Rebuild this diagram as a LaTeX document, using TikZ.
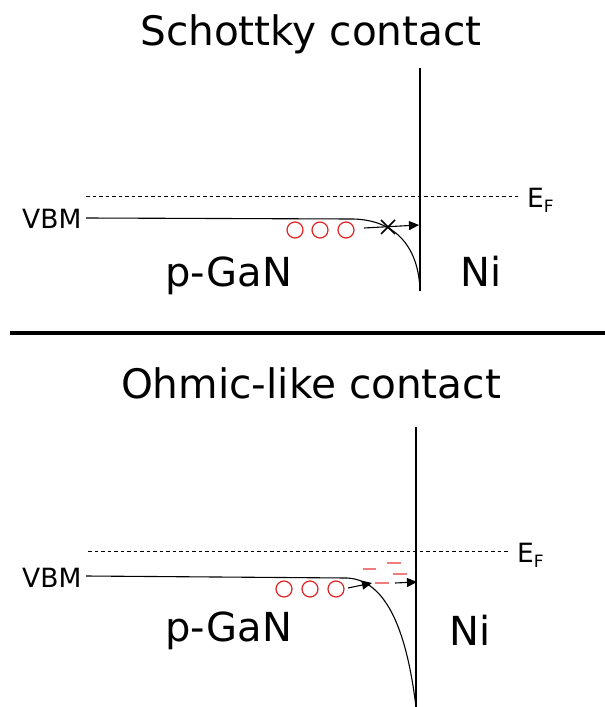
\documentclass[tikz,border=0pt]{standalone}
\usepackage{fontspec}
\setmainfont{DejaVu Sans}
\usetikzlibrary{arrows.meta,calc}
\definecolor{hole}{RGB}{225,35,35}
\definecolor{state}{RGB}{240,125,125}
\newcommand{\efermi}{E\raisebox{-5pt}{\fontsize{17}{17}\selectfont F}}
\begin{document}
\begin{tikzpicture}[x=1pt,y=-1pt,
  title/.style={font=\fontsize{40.6}{40}\selectfont, inner sep=0pt, anchor=base},
  big/.style={font=\fontsize{40}{40}\selectfont, inner sep=0pt, anchor=base west},
  lab/.style={font=\fontsize{26.5}{26}\selectfont, inner sep=0pt, anchor=base west},
  band/.style={line width=1.1pt},
  fermi/.style={line width=0.9pt, dash pattern=on 3.5pt off 3pt},
  holec/.style={draw=hole, line width=1.2pt, circle, minimum size=16pt, inner sep=0pt},
  trap/.style={draw=state, line width=1.1pt},
  arr/.style={line width=1.1pt, -{Triangle[length=10pt,width=9pt]}}]
\useasboundingbox (0,0) rectangle (605,707);
% ---------- top ----------
\node[title] (t1) at (311,45) {Schottky contact};
\coordinate (m1t) at (420,68);
\coordinate (m1b) at (420,291);
\draw[band] (m1t) -- (m1b);
\coordinate (f1a) at (86,196);
\coordinate (f1b) at (518,196);
\draw[fermi] (f1a) -- (f1b);
\node[lab] (ef1) at (527,207) {\efermi};
\node[lab] (vbm1) at (22,228) {VBM};
\coordinate (v1a) at (86,218);
\coordinate (v1b) at (353,219);
\draw[band] (v1a) -- (v1b) .. controls (398,220) and (419,250) .. (m1b);
\node[holec] (h1a) at (295,230) {};
\node[holec] (h1b) at (320,230) {};
\node[holec] (h1c) at (346,230) {};
\coordinate (a1s) at (364,228);
\coordinate (a1e) at (419,225);
\draw[arr] (a1s) -- (a1e);
\coordinate (x1) at (388,227);
\draw[line width=1.5pt] ($(x1)+(-7,-7)$) -- ($(x1)+(7,7)$) ($(x1)+(-7,7)$) -- ($(x1)+(7,-7)$);
\node[big] (pg1) at (165,286) {p-GaN};
\node[big] (ni1) at (460,286) {Ni};
% ---------- separator ----------
\coordinate (s1) at (10,333);
\coordinate (s2) at (605,333);
\draw[line width=4pt] (s1) -- (s2);
% ---------- bottom ----------
\node[title] (t2) at (311,398) {Ohmic-like contact};
\coordinate (m2t) at (416,427);
\coordinate (m2b) at (416,707);
\draw[band] (m2t) -- (m2b);
\coordinate (f2a) at (88,551);
\coordinate (f2b) at (510,551);
\draw[fermi] (f2a) -- (f2b);
\node[lab] (ef2) at (517,562) {\efermi};
\node[lab] (vbm2) at (22,587) {VBM};
\coordinate (v2a) at (86,576);
\coordinate (v2b) at (347,578);
\draw[band] (v2a) -- (v2b) .. controls (393,580) and (409,650) .. (m2b);
\node[holec] (h2a) at (284,589) {};
\node[holec] (h2b) at (310,589) {};
\node[holec] (h2c) at (336,589) {};
\coordinate (a2s) at (348,588);
\coordinate (a2e) at (372,583);
\draw[arr] (a2s) -- (a2e);
\coordinate (a3s) at (395,583);
\coordinate (a3e) at (417,582);
\draw[arr] (a3s) -- (a3e);
\draw[trap] (375,583) -- (389,583);
\draw[trap] (363,569) -- (376,569);
\draw[trap] (387,563) -- (401,563);
\draw[trap] (393,574) -- (407,574);
\node[big] (pg2) at (165,641) {p-GaN};
\node[big] (ni2) at (449,645) {Ni};
\end{tikzpicture}
\end{document}
